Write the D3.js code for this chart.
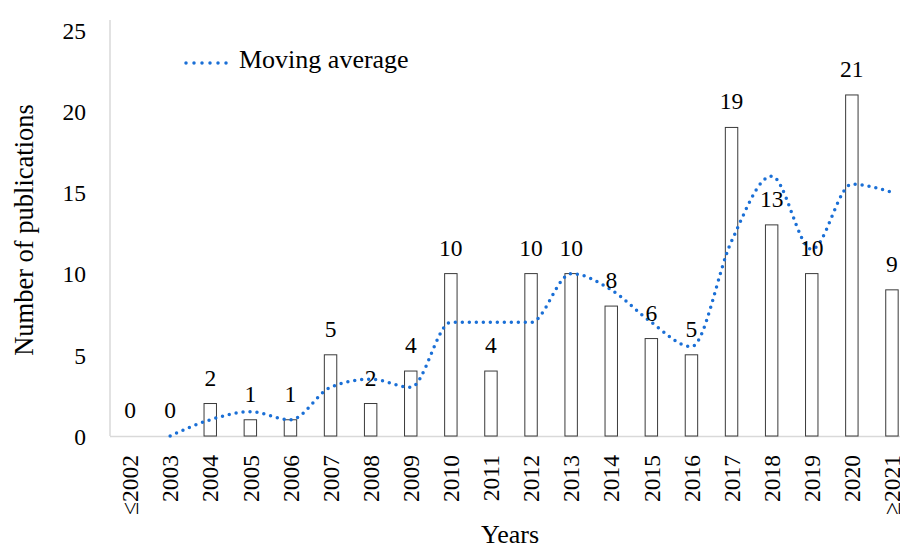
<!DOCTYPE html>
<html><head><meta charset="utf-8">
<script src="https://cdn.jsdelivr.net/npm/d3@7"></script>
<style>
html,body{margin:0;padding:0;background:#fff;overflow:hidden;}
text{font-family:"Liberation Serif","Times New Roman",serif;fill:#000;}
</style></head>
<body><svg id="chart" width="900" height="549"></svg>
<script>
const categories = ["≤2002","2003","2004","2005","2006","2007","2008","2009","2010","2011","2012","2013","2014","2015","2016","2017","2018","2019","2020","≥2021"];
const publications = [0,0,2,1,1,5,2,4,10,4,10,10,8,6,5,19,13,10,21,9];
const movingAvgCategories = ["2003","2004","2005","2006","2007","2008","2009","2010","2011","2012","2013","2014","2015","2016","2017","2018","2019","2020","≥2021"];
const movingAvg = [0,1,1.5,1,3,3.5,3,7,7,7,10,9,7,5.5,12,16,11.5,15.5,15];
const yTicks = [0,5,10,15,20,25];

const svg = d3.select("#chart");
const fs = 23.5;
const x = d3.scaleBand().domain(categories).range([110, 912]).paddingInner(0.69).paddingOuter(0.345);
const y = d3.scaleLinear().domain([0,25]).range([436,30]);

// axes lines
svg.append("line").attr("x1",110).attr("x2",110).attr("y1",20).attr("y2",436)
  .attr("stroke","#d9d9d9").attr("stroke-width",1.5);
svg.append("line").attr("x1",110).attr("x2",912).attr("y1",436.5).attr("y2",436.5)
  .attr("stroke","#d9d9d9").attr("stroke-width",1.5);

// y tick labels
const yAxis = d3.axisLeft(y).tickValues(yTicks).tickSize(0).tickPadding(0);
const gy = svg.append("g").attr("transform","translate(86,0)").call(yAxis);
gy.select(".domain").remove();
gy.selectAll("text").attr("font-size",fs).attr("dy","0.35em").style("font-family","Liberation Serif");

// x tick labels
const xAxis = d3.axisBottom(x).tickSize(0).tickPadding(0);
const gx = svg.append("g").attr("transform","translate(0,455)").call(xAxis);
gx.select(".domain").remove();
gx.selectAll("text").attr("font-size",fs).style("font-family","Liberation Serif")
  .attr("transform","rotate(-90)").attr("text-anchor","end")
  .attr("x",0).attr("y",0).attr("dy","0.35em");

// bars
svg.append("g").selectAll("rect").data(publications.map((v,i)=>({c:categories[i],v}))).join("rect")
  .attr("x",d=>x(d.c)).attr("width",x.bandwidth())
  .attr("y",d=>y(d.v)).attr("height",d=>y(0)-y(d.v))
  .attr("fill","#fff").attr("stroke",d=>d.v>0?"#3a3a3a":"none").attr("stroke-width",1);

// moving average line
const line = d3.line().x(d=>x(d.c)+x.bandwidth()/2).y(d=>y(d.v)).curve(d3.curveMonotoneX);
svg.append("path").datum(movingAvg.map((v,i)=>({c:movingAvgCategories[i],v})))
  .attr("d",line).attr("fill","none").attr("stroke","#1a6fd6").attr("stroke-width",3.5)
  .attr("stroke-linecap","round").attr("stroke-dasharray","0,7");

// data labels
svg.append("g").selectAll("text").data(publications.map((v,i)=>({c:categories[i],v}))).join("text")
  .attr("x",d=>x(d.c)+x.bandwidth()/2).attr("y",d=>y(d.v)-18)
  .attr("text-anchor","middle").attr("font-size",fs).text(d=>d.v);

// legend
svg.append("line").attr("x1",186).attr("x2",234).attr("y1",63).attr("y2",63)
  .attr("stroke","#1a6fd6").attr("stroke-width",3.5).attr("stroke-linecap","round").attr("stroke-dasharray","0,8");
svg.append("text").attr("x",239).attr("y",68).attr("font-size",26).text("Moving average");

// axis titles
svg.append("text").attr("x",510).attr("y",543).attr("text-anchor","middle").attr("font-size",26).text("Years");
svg.append("text").attr("transform","translate(33,230) rotate(-90)").attr("text-anchor","middle")
  .attr("font-size",26.5).text("Number of publications");
</script></body></html>
